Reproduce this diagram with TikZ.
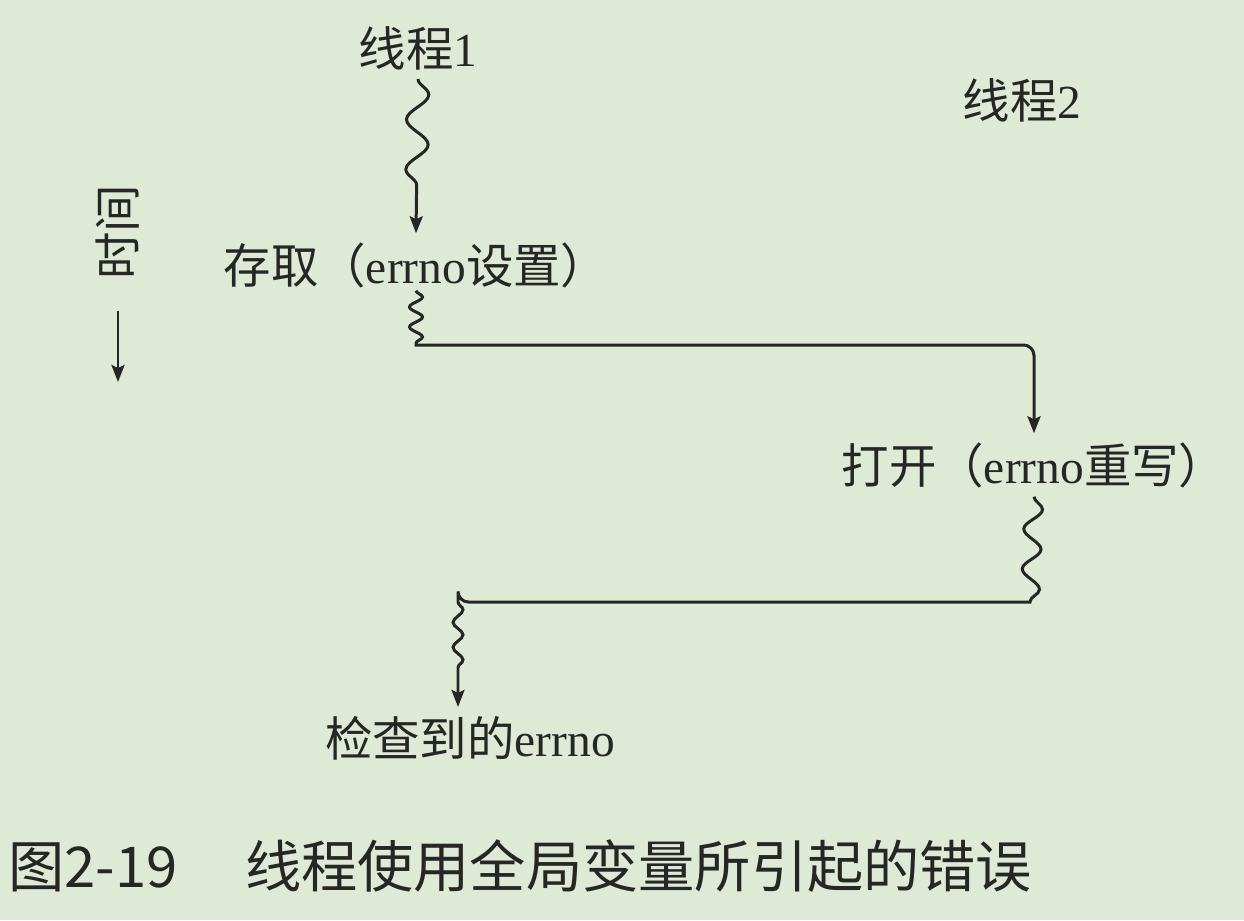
\documentclass[tikz,border=0pt]{standalone}
\usepackage{fontspec}
\setmainfont{Liberation Serif}
\newfontfamily\cjk{Noto Sans CJK SC}
\usetikzlibrary{positioning,decorations.pathmorphing,arrows.meta}
\definecolor{paper}{RGB}{222,234,213}
\definecolor{ink}{RGB}{38,38,38}

\begin{document}
\begin{tikzpicture}
  [ x=0.02cm, y=-0.02cm,
    lbl/.style={text=ink, inner sep=5pt, font=\fontsize{27}{30}\selectfont},
    figcap/.style={text=ink, inner sep=0pt, font=\cjk\fontsize{32}{36}\selectfont},
    flow/.style={draw=ink, line width=1.7pt, rounded corners=6pt,
                 -{Stealth[length=3.4mm, width=2.6mm, inset=0.6mm]}},
    wave/.style={sharp corners, decoration={snake, amplitude=2.2mm, segment length=10mm, post length=6mm}},
    ripple/.style={sharp corners, decoration={snake, amplitude=1.3mm, segment length=4mm}},
    swell/.style={sharp corners, decoration={snake, amplitude=1.8mm, segment length=8mm}},
    tail/.style={sharp corners, decoration={snake, amplitude=1mm, segment length=5mm, post length=6mm}}
  ]

  \fill[paper] (0,0) rectangle (1244,920);
  \useasboundingbox (0,0) rectangle (1244,920);

  \node[lbl] (thread1) at (418,48) {{\cjk 线程}1};
  \node[lbl] (thread2) at (1022,100) {{\cjk 线程}2};
  \node[lbl] (access) at (416,265) {{\cjk 存取（}errno{\cjk 设置）}};
  \node[lbl] (open) at (1034,465) {{\cjk 打开（}errno{\cjk 重写）}};
  \node[lbl] (check) at (470,738) {{\cjk 检查到的}errno};
  \node[lbl, rotate=90] (time) at (118,232) {\cjk 时间};
  \node[figcap, anchor=west] (caption) at (8,866)
    {图2-19\hspace{1.2em}线程使用全局变量所引起的错误};

  \coordinate (timeend) at (118,382);
  \coordinate (bend1) at (416,345);
  \coordinate (bend2) at (1030,602);
  \coordinate (bend3) at (458,602);

  \draw [flow] (time.west) ++(0,22) -- (timeend);
  \draw [flow, sharp corners] (thread1.south) decorate[wave] {-- (access.north)};
  \draw [flow] (access.south) ++(0,-6) decorate[ripple] {-- (bend1)} -| (open.north);
  \draw [flow] (open.south) decorate[swell] {-- (bend2)} -- (bend3)
    decorate[tail] {-- (check.north -| bend3)};
\end{tikzpicture}
\end{document}
